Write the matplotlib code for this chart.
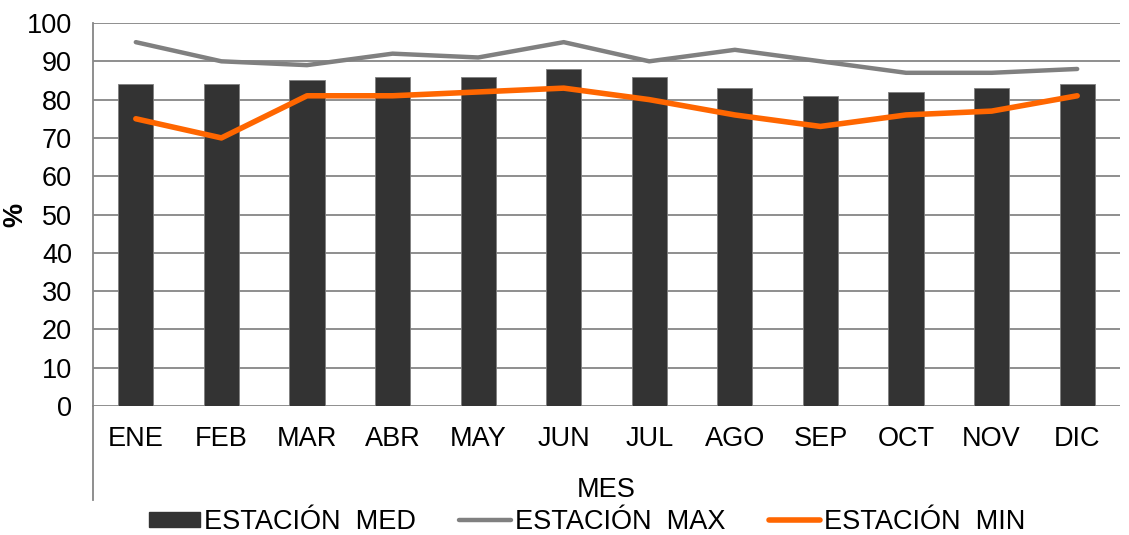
import numpy as np
import matplotlib.pyplot as plt
from matplotlib.lines import Line2D
from matplotlib.patches import Patch

plt.rcParams['font.family'] = ['Liberation Sans', 'DejaVu Sans']

meses = ["ENE", "FEB", "MAR", "ABR", "MAY", "JUN", "JUL", "AGO", "SEP", "OCT", "NOV", "DIC"]
med = [84, 84, 85, 86, 86, 88, 86, 83, 81, 82, 83, 84]
maxi = [95, 90, 89, 92, 91, 95, 90, 93, 90, 87, 87, 88]
mini = [75, 70, 81, 81, 82, 83, 80, 76, 73, 76, 77, 81]

fig = plt.figure(figsize=(11.29, 5.35), dpi=100)
ax = fig.add_axes([0.0824, 0.241, 0.9096, 0.716])

x = np.arange(len(meses))
ax.bar(x, med, width=0.41, color="#333333", edgecolor="#7f7f7f", linewidth=0.6, zorder=2)
ax.plot(x, maxi, color="#808080", linewidth=3.2, solid_capstyle="round", zorder=3)
ax.plot(x, mini, color="#ff6600", linewidth=4.0, solid_capstyle="round", zorder=4)

ax.set_xlim(-0.5, len(meses) - 0.5)
ax.set_ylim(0, 100)
ax.set_yticks(range(0, 101, 10))
ax.set_xticks(x)
ax.set_xticklabels(meses)
ax.yaxis.grid(True, color="#868686", linewidth=1.3, zorder=0)
ax.set_axisbelow(True)
ax.tick_params(axis="both", length=0, labelsize=19.5)
ax.tick_params(axis="x", pad=14)
ax.tick_params(axis="y", pad=15)

for s in ["top", "right", "bottom"]:
    ax.spines[s].set_visible(False)
ax.spines["left"].set_color("#868686")
ax.spines["left"].set_linewidth(1.3)
# extended category axis line like excel
ax.add_line(Line2D([0, 0], [0, -0.245], transform=ax.transAxes, color="#868686",
                   linewidth=1.3, clip_on=False))

ax.set_ylabel("%", fontsize=19.5, fontweight="bold")
ax.yaxis.set_label_coords(-0.063, 0.5)
ax.set_xlabel("MES", fontsize=19.5, labelpad=18)

handles = [
    Patch(facecolor="#333333", edgecolor="#333333"),
    Line2D([], [], color="#808080", linewidth=3.2, solid_capstyle="round"),
    Line2D([], [], color="#ff6600", linewidth=4.0, solid_capstyle="round"),
]
labels = ["ESTACIÓN  MED", "ESTACIÓN  MAX", "ESTACIÓN  MIN"]
fig.legend(handles, labels, loc="center", bbox_to_anchor=(0.52, 0.024), ncol=3,
           frameon=False, fontsize=19.5, handlelength=1.9, handleheight=0.5,
           handletextpad=0.15, columnspacing=1.6, borderpad=0)

fig.savefig("out.png", dpi=100)
